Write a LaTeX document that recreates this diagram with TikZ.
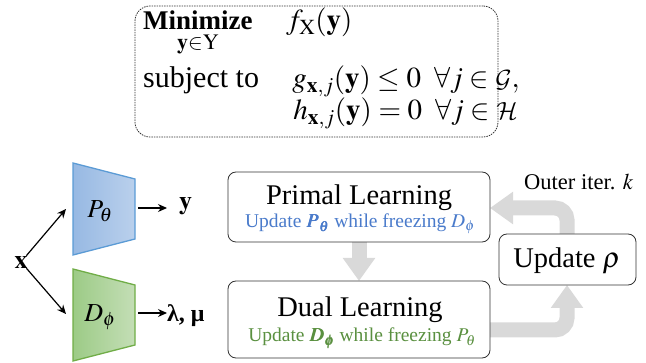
\documentclass[tikz,border=0pt]{standalone}
\usepackage{mathptmx}
\usepackage{amsmath,bm}
\DeclareMathAlphabet{\mathcal}{OMS}{cmsy}{m}{n}
\usepackage{fontspec}
\setmainfont{Liberation Serif}
\usetikzlibrary{arrows.meta,calc}
\definecolor{pL}{HTML}{97B9E3}
\definecolor{pR}{HTML}{BAD0EC}
\definecolor{pE}{HTML}{5B9BD5}
\definecolor{dL}{HTML}{9CCB86}
\definecolor{dR}{HTML}{C4DEB6}
\definecolor{dE}{HTML}{70AD47}
\definecolor{bluetxt}{HTML}{4A7BCB}
\definecolor{greentxt}{HTML}{5A9040}
\definecolor{garr}{HTML}{D9D9D9}
\begin{document}
\begin{tikzpicture}[x=1pt,y=-1pt,
  box/.style={draw=black!80, fill=white, rounded corners=8pt, line width=0.8pt, inner sep=0pt},
  garrow/.style={draw=garr, line width=15pt, -{Triangle[width=31pt,length=23pt]}},
  big/.style={inner sep=0pt, font=\fontsize{28.5}{33}\selectfont},
  prob/.style={inner sep=0pt, font=\fontsize{29}{34}\selectfont},
  mid/.style={inner sep=0pt, font=\fontsize{26}{30}\selectfont},
  small/.style={inner sep=0pt, font=\fontsize{19.5}{23}\selectfont},
  blk/.style={draw=black, line width=1.2pt, -{Stealth[length=9pt,width=8pt]}},
]
\useasboundingbox (0,0) rectangle (646,363);

% optimisation problem
\node[draw=black!80, dashed, dash pattern=on 1.5pt off 1pt, rounded corners=15pt, line width=0.8pt,
      minimum width=363pt, minimum height=131pt, inner sep=0pt] (prob) at (316.5,71.5) {};
\node[prob, anchor=base west] (minz) at (143,30) {$\displaystyle\mathop{\text{\fontsize{27}{30}\selectfont\bfseries Minimize}}_{\text{\fontsize{22}{24}\selectfont$\mathbf{y}{\in}\mathrm{Y}$}}$};
\node[prob, anchor=base west] (obj) at (286,30) {$f_{\mathrm{X}}(\mathbf{y})$};
\node[prob, anchor=base west, font=\fontsize{30}{34}\selectfont] (subj) at (143,88) {subject to};
\node[prob, anchor=base east] (glhs) at (371,88) {$g_{\mathbf{x},j}(\mathbf{y})$};
\node[prob, anchor=base west] (grhs) at (371,88) {${}\le 0\;\;\forall j \in \mathcal{G},$};
\node[prob, anchor=base east] (hlhs) at (372,120) {$h_{\mathbf{x},j}(\mathbf{y})$};
\node[prob, anchor=base west] (hrhs) at (372,120) {${}= 0\;\;\forall j \in \mathcal{H}$};

% networks
\shade[left color=pL, right color=pR, draw=pE, line width=1.3pt]
  (73,163) -- (135,179) -- (135,239) -- (73,255) -- cycle;
\shade[left color=dL, right color=dR, draw=dE, line width=1.3pt]
  (73,269) -- (135,285) -- (135,345) -- (73,361) -- cycle;
\node[mid] (P) at (100,211) {$P_\theta$};
\node[mid] (D) at (100,317) {$D_\phi$};
\coordinate (Pin) at (66,209);
\coordinate (Din) at (66,314);
\coordinate (Pout) at (138,208);
\coordinate (Dout) at (138,313);
\coordinate (Yin) at (167,208);

\node[mid] (x) at (21,262) {$\mathbf{x}$};
\node[mid, anchor=west] (y) at (179,206) {$\mathbf{y}$};
\node[mid, anchor=base west] (lm) at (167,322) {\fontsize{24}{28}\selectfont\bfseries λ, μ};

\draw[blk] (x) -- (Pin);
\draw[blk] (x) -- (Din);
\draw[blk] (Pout) -- (Yin);
\draw[blk] (Dout) -- (Dout -| lm.west);

% gray loop arrows
\draw[garrow] (359,242) -- (359,281);
\draw[garrow, rounded corners=12pt] (480,330) -- (567,330) -- (567,285);
\draw[garrow, rounded corners=12pt] (567,240) -- (567,208) -- (490,208);

% boxes
\node[box, minimum width=262pt, minimum height=70pt] (primal) at (359,207) {};
\node[box, minimum width=262pt, minimum height=77pt] (dual) at (359,319.5) {};
\node[box, minimum width=137pt, minimum height=51pt] (upd) at (567.5,259.5) {};

\node[big, anchor=base] (pt) at (359,205) {Primal Learning};
\node[small, anchor=base, text=bluetxt] (ps) at (360,228) {Update $\bm{P_\theta}$ while freezing $D_\phi$};
\node[big, anchor=base] (dt) at (360,317) {Dual Learning};
\node[small, anchor=base, text=greentxt] (ds) at (362,342) {Update $\bm{D_\phi}$ while freezing $P_\theta$};
\node[big, anchor=base] (ut) at (567,268) {Update $\rho$};
\node[mid, anchor=base west, font=\fontsize{22.5}{26}\selectfont] (outer) at (524,190) {Outer iter. $k$};
\end{tikzpicture}
\end{document}
